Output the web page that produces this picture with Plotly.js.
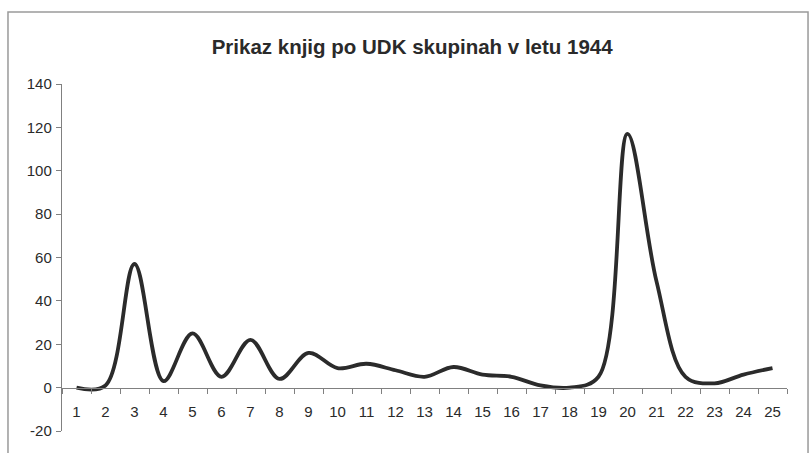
<!DOCTYPE html>
<html>
<head>
<meta charset="utf-8">
<script src="https://cdn.plot.ly/plotly-3.0.1.min.js"></script>
<style>html,body{margin:0;padding:0;background:#fff;}#chart{width:810px;height:453px;}</style>
</head>
<body>
<div id="chart"></div>
<script>
var categories = ["1","2","3","4","5","6","7","8","9","10","11","12","13","14","15","16","17","18","19","20","21","22","23","24","25"];
var values = [0, 1, 57, 3, 25, 5, 22, 4, 16, 9, 11, 8, 5, 9.5, 6, 5, 1, 0, 5, 117, 49, 5, 2, 6, 9];
var yTicks = [-20, 0, 20, 40, 60, 80, 100, 120, 140];
var yTickLabels = ["-20", "0", "20", "40", "60", "80", "100", "120", "140"];
var titleText = "Prikaz knjig po UDK skupinah v letu 1944";

var trace = {
  x: categories,
  y: values,
  type: "scatter",
  mode: "lines",
  line: {color: "#2b2b2b", width: 3.8, shape: "spline", smoothing: 1},
  hoverinfo: "x+y"
};

var layout = {
  width: 810,
  height: 453,
  margin: {l: 62, r: 23, t: 84, b: 22},
  paper_bgcolor: "#ffffff",
  plot_bgcolor: "#ffffff",
  showlegend: false,
  font: {family: "Liberation Sans, Arial, sans-serif", size: 15, color: "#2a2a2a"},
  title: {
    text: titleText,
    font: {family: "Liberation Sans, Arial, sans-serif", size: 20.5, color: "#2a2a2a", weight: "bold"},
    x: 0.483, xanchor: "center", xref: "paper",
    y: 0.896, yanchor: "middle"
  },
  xaxis: {
    type: "category",
    anchor: "free",
    position: 0.125,
    range: [-0.5, 24.5],
    tickson: "boundaries",
    ticks: "outside",
    ticklen: 5,
    tickcolor: "#808080",
    tickwidth: 1,
    showline: true,
    linecolor: "#808080",
    linewidth: 1.2,
    showgrid: false,
    zeroline: false,
    ticklabelstandoff: 10,
    tickfont: {size: 15, color: "#2a2a2a"},
    fixedrange: true
  },
  yaxis: {
    range: [-20, 140],
    tickmode: "array",
    tickvals: yTicks,
    ticktext: yTickLabels,
    ticks: "outside",
    ticklen: 5,
    tickcolor: "#808080",
    showline: true,
    linecolor: "#808080",
    linewidth: 1.2,
    showgrid: false,
    zeroline: false,
    ticklabelstandoff: 1,
    tickfont: {size: 15, color: "#2a2a2a"},
    fixedrange: true
  },
  shapes: [{
    type: "rect", xref: "paper", yref: "paper",
    x0: -0.0745, x1: 1.029, y0: -0.09, y1: 1.2075,
    line: {color: "#9a9a9a", width: 1.5},
    fillcolor: "rgba(0,0,0,0)",
    layer: "below"
  }]
};

Plotly.newPlot("chart", [trace], layout, {displayModeBar: false, staticPlot: true});
</script>
</body>
</html>
